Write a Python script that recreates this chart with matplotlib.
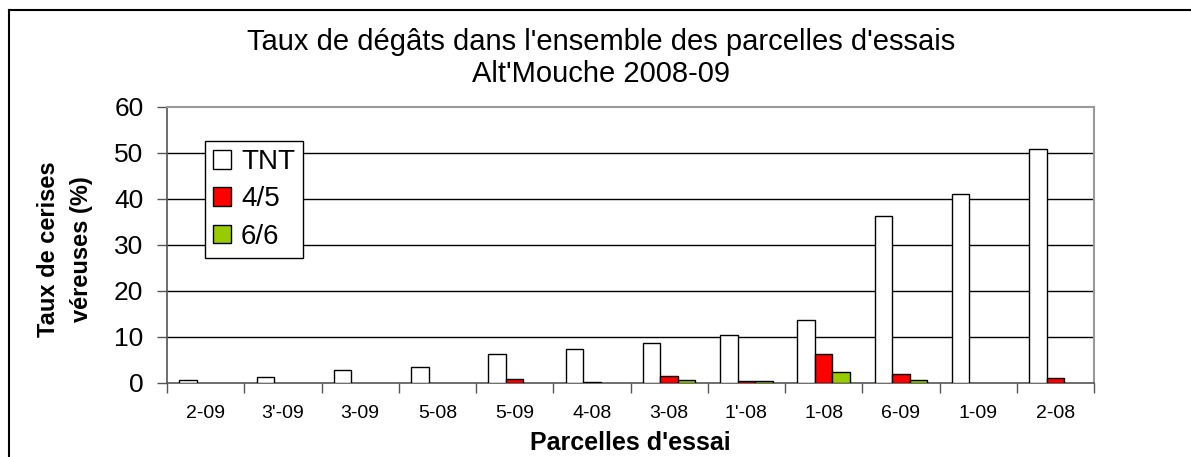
import matplotlib
matplotlib.use("Agg")
import matplotlib.pyplot as plt
import numpy as np
from matplotlib.lines import Line2D
from matplotlib.patches import Patch

categories = ["2-09", "3'-09", "3-09", "5-08", "5-09", "4-08", "3-08", "1'-08", "1-08", "6-09", "1-09", "2-08"]
tnt = [0.6, 1.2, 2.8, 3.4, 6.3, 7.3, 8.8, 10.4, 13.6, 36.4, 41.0, 50.9]
s45 = [0, 0, 0, 0, 0.9, 0.2, 1.5, 0.5, 6.3, 1.9, 0, 1.0]
s66 = [0, 0, 0, 0, 0, 0, 0.6, 0.5, 2.5, 0.6, 0, 0]
series_names = ["TNT", "4/5", "6/6"]
yticks = [0, 10, 20, 30, 40, 50, 60]

plt.rcParams['font.family'] = ['Liberation Sans', 'DejaVu Sans']

W, H = 1191, 457
fig = plt.figure(figsize=(W / 100, H / 100), dpi=100)
ax = fig.add_axes([167 / W, 1 - 383 / H, (1094 - 167) / W, (383 - 107) / H])

x = np.arange(len(categories)) + 0.5
w = 0.2265
ec = "black"
lw = 1.0


def draw(vals, offset, color):
    vals = np.asarray(vals, dtype=float)
    m = vals > 0
    ax.bar(x[m] + offset, vals[m], w, color=color, edgecolor=ec, linewidth=lw, zorder=3)


draw(tnt, -w, "white")
draw(s45, 0, "#FF0000")
draw(s66, w, "#99CC00")

ax.set_xlim(0, len(categories))
ax.set_ylim(0, 60)
ax.set_yticks(yticks)
ax.set_yticklabels([str(v) for v in yticks], fontsize=19)
ax.set_xticks(np.arange(len(categories) + 1))
ax.set_xticklabels([])
ax.set_xticks(x, minor=True)
ax.set_xticklabels(categories, minor=True, fontsize=14)
ax.tick_params(axis='x', which='minor', length=0, pad=16)
ax.tick_params(axis='x', which='major', length=7, width=1, color="#555555", direction='out')
ax.tick_params(axis='y', length=7, width=1, color="#555555", pad=10)

for v in yticks[1:-1]:
    ax.axhline(v, color="black", linewidth=1, zorder=1)

for s in ["left", "bottom"]:
    ax.spines[s].set_color("#555555")
    ax.spines[s].set_linewidth(1.2)
for s in ["top", "right"]:
    ax.spines[s].set_color("#999999")
    ax.spines[s].set_linewidth(1.5)

fig.text(65 / W, 1 - 249 / H, "Taux de cerises\nvéreuses (%)", rotation=90, ha="center", va="center",
         fontsize=17, fontweight="bold", linespacing=1.6, multialignment="center")
fig.text(630 / W, 1 - 443 / H, "Parcelles d'essai", ha="center", va="center",
         fontsize=18, fontweight="bold")

fig.text(601 / W, 1 - 42 / H, "Taux de dégâts dans l'ensemble des parcelles d'essais",
         ha="center", va="center", fontsize=21)
fig.text(601 / W, 1 - 74 / H, "Alt'Mouche 2008-09", ha="center", va="center", fontsize=21)

handles = [Patch(facecolor="white", edgecolor="black", linewidth=1),
           Patch(facecolor="#FF0000", edgecolor="black", linewidth=1),
           Patch(facecolor="#99CC00", edgecolor="black", linewidth=1)]
leg = ax.legend(handles, series_names, loc="upper left",
                bbox_to_anchor=((205 - 167) / 927, (383 - 141) / 276),
                fontsize=20, frameon=True, fancybox=False, edgecolor="black", framealpha=1,
                handlelength=0.65, handleheight=0.65, handletextpad=0.35, borderpad=0.3,
                labelspacing=0.4, borderaxespad=0)
leg.get_frame().set_linewidth(1)
leg.set_zorder(5)

fig.add_artist(Line2D([9 / W, 9 / W], [0, 1 - 10 / H], transform=fig.transFigure, color="black", linewidth=1.5))
fig.add_artist(Line2D([9 / W, 1], [1 - 10 / H, 1 - 10 / H], transform=fig.transFigure, color="black", linewidth=1.5))

fig.savefig("out.png", dpi=100)
